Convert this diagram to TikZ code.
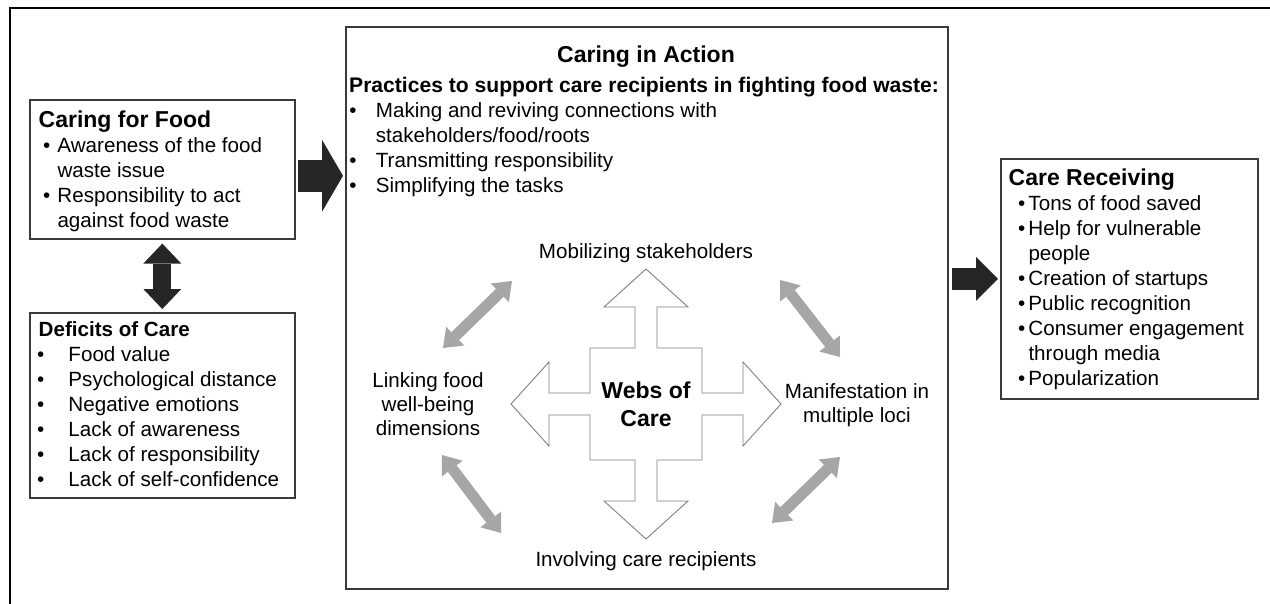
\documentclass[tikz,border=0pt]{standalone}
\usepackage{fontspec}
\setmainfont{Liberation Sans}
\usetikzlibrary{arrows.meta,positioning}
\definecolor{boxline}{HTML}{3A3A3A}
\definecolor{fatdark}{HTML}{262626}
\definecolor{weblight}{HTML}{A6A6A6}
\definecolor{crossline}{HTML}{7F7F7F}
\newcommand{\bodyfont}{\fontsize{20.6}{25}\selectfont}
\newcommand{\lblfont}{\fontsize{20.6}{24}\selectfont}
\newcommand{\headfont}{\fontsize{23}{25}\selectfont\bfseries}
\newcommand{\websfont}{\fontsize{23}{28}\selectfont\bfseries}
\newcommand{\itm}[3]{\hspace*{#1}\makebox[#2][l]{•}#3}
\newcommand{\cnt}[2]{\hspace*{#1}#2}
\tikzset{
  box/.style={draw=boxline, line width=1.6pt, fill=white, inner sep=0pt, anchor=north west},
  txt/.style={inner sep=0pt, anchor=base west, font=\bodyfont},
  lbl/.style={inner sep=0pt, anchor=base, font=\lblfont},
  webarrow/.style={weblight, line width=11pt,
    {Triangle[length=17pt,width=26pt,line width=0pt]}-{Triangle[length=17pt,width=26pt,line width=0pt]}}
}
\begin{document}
\begin{tikzpicture}[x=1pt,y=-1pt]
\useasboundingbox (0,0) rectangle (1270,603);
\clip (0,0) rectangle (1270,603);
\draw[line width=2.3pt] (10,7.8) rectangle (1300,640);

\node (food)[box, minimum width=265pt, minimum height=139pt] at (29,99) {};
\node (deficits)[box, minimum width=265pt, minimum height=185pt] at (29,312) {};
\node (action)[box, minimum width=602pt, minimum height=562pt] at (345,26) {};
\node (receive)[box, minimum width=257pt, minimum height=240pt] at (1000,158) {};

\node (foodtxt)[txt] at (38.5,127) {\begin{tabular}[t]{@{}l@{}}
  {\headfont Caring for Food}\\
  \itm{4.3pt}{14.5pt}{Awareness of the food}\\
  \cnt{18.8pt}{waste issue}\\
  \itm{4.3pt}{14.5pt}{Responsibility to act}\\
  \cnt{18.8pt}{against food waste}
\end{tabular}};
\node (deficitstxt)[txt] at (38.5,336) {\begin{tabular}[t]{@{}l@{}}
  \textbf{Deficits of Care}\\
  \itm{-1.5pt}{31.3pt}{Food value}\\
  \itm{-1.5pt}{31.3pt}{Psychological distance}\\
  \itm{-1.5pt}{31.3pt}{Negative emotions}\\
  \itm{-1.5pt}{31.3pt}{Lack of awareness}\\
  \itm{-1.5pt}{31.3pt}{Lack of responsibility}\\
  \itm{-1.5pt}{31.3pt}{Lack of self-confidence}
\end{tabular}};
\node (actiontitle)[lbl, font=\headfont] at (646,62) {Caring in Action};
\node (actiontxt)[txt] at (349,92) {\begin{tabular}[t]{@{}l@{}}
  {\fontsize{21.1}{25}\selectfont\bfseries Practices to support care recipients in fighting food waste:}\\
  \itm{0.2pt}{26.5pt}{Making and reviving connections with}\\
  \cnt{26.7pt}{stakeholders/food/roots}\\
  \itm{0.2pt}{26.5pt}{Transmitting responsibility}\\
  \itm{0.2pt}{26.5pt}{Simplifying the tasks}
\end{tabular}};
\node (receivetxt)[txt] at (1008.5,185) {\begin{tabular}[t]{@{}l@{}}
  {\headfont Care Receiving}\\
  \itm{9.3pt}{10.5pt}{Tons of food saved}\\
  \itm{9.3pt}{10.5pt}{Help for vulnerable}\\
  \cnt{19.8pt}{people}\\
  \itm{9.3pt}{10.5pt}{Creation of startups}\\
  \itm{9.3pt}{10.5pt}{Public recognition}\\
  \itm{9.3pt}{10.5pt}{Consumer engagement}\\
  \cnt{19.8pt}{through media}\\
  \itm{9.3pt}{10.5pt}{Popularization}
\end{tabular}};

\draw[fatdark, line width=32pt, shorten >=2pt, -{Triangle[length=21pt,width=72pt,line width=0pt]}]
  ([shift={(2,6.5)}]food.east) coordinate (fa) -- (fa -| action.west);
\draw[fatdark, line width=22pt, shorten <=3pt, shorten >=2pt, -{Triangle[length=22pt,width=44pt,line width=0pt]}]
  (action.east |- receive.west) -- (receive.west);
\draw[fatdark, line width=18pt, shorten <=4pt, shorten >=3pt,
  {Triangle[length=20pt,width=38pt,line width=0pt]}-{Triangle[length=20pt,width=38pt,line width=0pt]}]
  (food.south) -- (deficits.north);

\begin{scope}[shift={(646,404)}]
\draw[crossline, line width=0.9pt, fill=white] (0,-135) -- (42,-97) -- (11,-97) -- (11,-56) -- (56,-56)
  -- (56,-11) -- (97,-11) -- (97,-42) -- (135,0) -- (97,42) -- (97,11) -- (56,11) -- (56,56)
  -- (11,56) -- (11,97) -- (42,97) -- (0,135) -- (-42,97) -- (-11,97) -- (-11,56) -- (-56,56)
  -- (-56,11) -- (-97,11) -- (-97,42) -- (-135,0) -- (-97,-42) -- (-97,-11) -- (-56,-11)
  -- (-56,-56) -- (-11,-56) -- (-11,-97) -- (-42,-97) -- cycle;
\end{scope}
\node (webs)[lbl, font=\websfont] at (646,398) {\begin{tabular}[t]{@{}c@{}}Webs of\\Care\end{tabular}};

\node (mobilize)[lbl] at (646,258) {Mobilizing stakeholders};
\node (involve)[lbl] at (646,566) {Involving care recipients};
\node (link)[lbl] at (428,387) {\begin{tabular}[t]{@{}c@{}}Linking food\\well-being\\dimensions\end{tabular}};
\node (manifest)[lbl] at (857,398) {\begin{tabular}[t]{@{}c@{}}Manifestation in\\multiple loci\end{tabular}};

\coordinate (tla) at (443,348);
\coordinate (tlb) at (512,281);
\coordinate (tra) at (780,280);
\coordinate (trb) at (840,357);
\coordinate (bra) at (840,457);
\coordinate (brb) at (772,523);
\coordinate (bla) at (442,455);
\coordinate (blb) at (501,533);
\draw[webarrow] (tla) -- (tlb);
\draw[webarrow] (tra) -- (trb);
\draw[webarrow] (bra) -- (brb);
\draw[webarrow] (bla) -- (blb);
\end{tikzpicture}
\end{document}
